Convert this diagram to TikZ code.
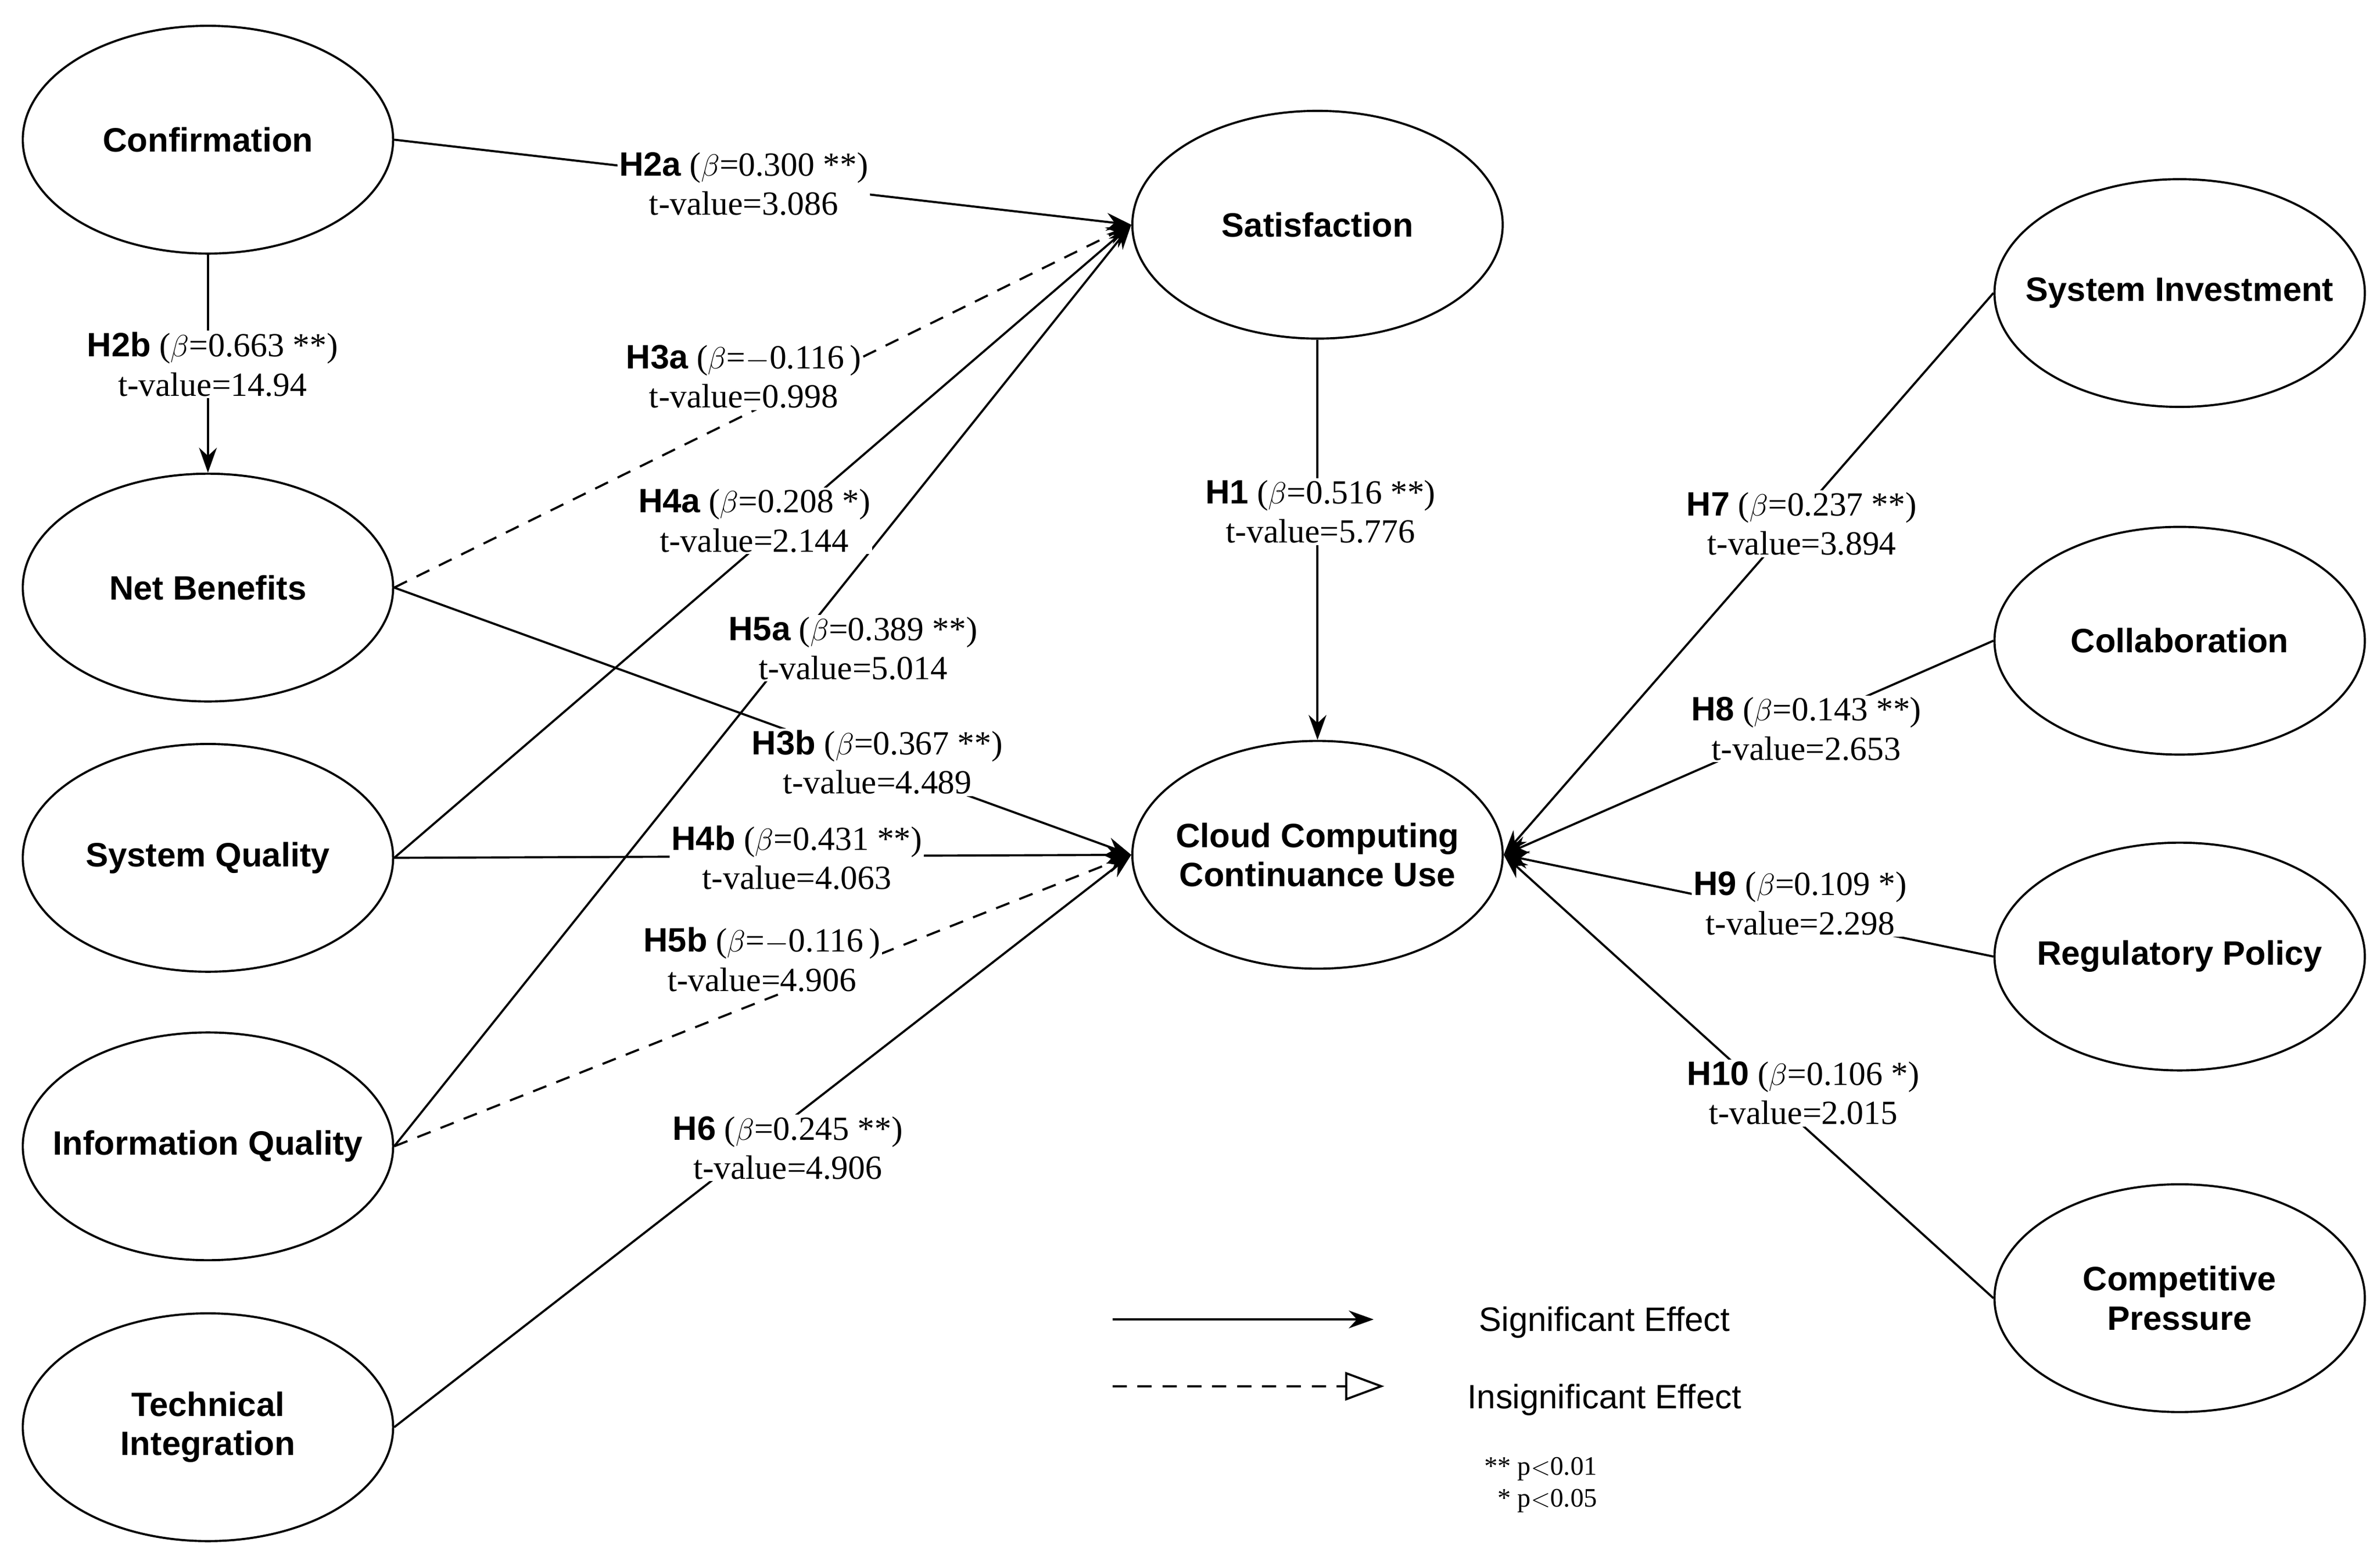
\documentclass[tikz,border=0pt]{standalone}
\usepackage{fontspec}
\setmainfont{Liberation Serif}
\newfontfamily\hsf{Liberation Sans}
\usetikzlibrary{shapes.geometric, arrows.meta}
\tikzset{
  blob/.style={draw, ellipse, line width=1.2pt, minimum width=7.32cm, minimum height=4.5cm, inner sep=0pt},
  con/.style={line width=1.2pt, -{Stealth[length=14pt,width=10pt]}},
  ins/.style={con, dashed, dash pattern=on 8pt off 6pt},
  hyp/.style={fill=white, align=center, inner sep=1pt, font=\fontsize{19}{22}\selectfont},
}
\newcommand{\bt}[1]{{\hsf\bfseries #1}}
\begin{document}
\begin{tikzpicture}[x=0.03cm, y=-0.03cm, font=\fontsize{19}{22}\selectfont]
        \useasboundingbox (0,0) rectangle (1568,1032);

        \node[blob, label={center:\bt{Confirmation}}] (conf) at (137,92) {};
        \node[blob, label={center:\bt{Net Benefits}}] (net) at (137,387) {};
        \node[blob, label={center:\bt{System Quality}}] (sysq) at (137,565) {};
        \node[blob, label={center:\bt{Information Quality}}] (infq) at (137,755) {};
        \node[blob, label={[align=center]center:\bt{Technical}\\\bt{Integration}}] (tech) at (137,940) {};

        \node[blob, label={center:\bt{Satisfaction}}] (sat) at (868,148) {};
        \node[blob, label={[align=center]center:\bt{Cloud Computing}\\\bt{Continuance Use}}] (ccu) at (868,563) {};

        \node[blob, label={center:\bt{System Investment}}] (inv) at (1436,193) {};
        \node[blob, label={center:\bt{Collaboration}}] (coll) at (1436,422) {};
        \node[blob, label={center:\bt{Regulatory Policy}}] (reg) at (1436,630) {};
        \node[blob, label={[align=center]center:\bt{Competitive}\\\bt{Pressure}}] (comp) at (1436,855) {};

        \draw[con] (conf.east) -- (sat.west);
        \draw[con] (conf.south) -- (net.north);
        \draw[ins] (net.east) -- (sat.west);
        \draw[con] (sysq.east) -- (sat.west);
        \draw[con] (infq.east) -- (sat.west);
        \draw[con] (net.east) -- (ccu.west);
        \draw[con] (sysq.east) -- (ccu.west);
        \draw[ins] (infq.east) -- (ccu.west);
        \draw[con] (tech.east) -- (ccu.west);
        \draw[con] (sat.south) -- (ccu.north);
        \draw[con] (inv.west) -- (ccu.east);
        \draw[con] (coll.west) -- (ccu.east);
        \draw[con] (reg.west) -- (ccu.east);
        \draw[con] (comp.west) -- (ccu.east);

        \node[hyp] (h2a) at (490,121) {\bt{H2a} ($\beta$=0.300 **)\\t-value=3.086};
        \node[hyp] (h2b) at (140,240) {\bt{H2b} ($\beta$=0.663 **)\\t-value=14.94};
        \node[hyp] (h3a) at (490,248) {\bt{H3a} ($\beta$=$-$0.116\,)\\t-value=0.998};
        \node[hyp] (h4a) at (497,343) {\bt{H4a} ($\beta$=0.208 *)\\t-value=2.144};
        \node[hyp] (h5a) at (562,427) {\bt{H5a} ($\beta$=0.389 **)\\t-value=5.014};
        \node[hyp] (h3b) at (578,502) {\bt{H3b} ($\beta$=0.367 **)\\t-value=4.489};
        \node[hyp] (h4b) at (525,565) {\bt{H4b} ($\beta$=0.431 **)\\t-value=4.063};
        \node[hyp] (h5b) at (502,632) {\bt{H5b} ($\beta$=$-$0.116\,)\\t-value=4.906};
        \node[hyp] (h6) at (519,756) {\bt{H6} ($\beta$=0.245 **)\\t-value=4.906};
        \node[hyp] (h1) at (870,337) {\bt{H1} ($\beta$=0.516 **)\\t-value=5.776};
        \node[hyp] (h7) at (1187,345) {\bt{H7} ($\beta$=0.237 **)\\t-value=3.894};
        \node[hyp] (h8) at (1190,480) {\bt{H8} ($\beta$=0.143 **)\\t-value=2.653};
        \node[hyp] (h9) at (1186,595) {\bt{H9} ($\beta$=0.109 *)\\t-value=2.298};
        \node[hyp] (h10) at (1188,720) {\bt{H10} ($\beta$=0.106 *)\\t-value=2.015};

        % legend
        \coordinate (s1) at (733,869);
        \coordinate (s2) at (905,869);
        \coordinate (d1) at (733,913);
        \coordinate (d2) at (912,913);
        \draw[con] (s1) -- (s2);
        \draw[line width=1.2pt, dashed, dash pattern=on 8pt off 6pt, -{Triangle[open, length=22pt, width=16pt]}] (d1) -- (d2);
        \node (sig) at (1057,871) {\hsf Significant Effect};
        \node (insig) at (1057,922) {\hsf Insignificant Effect};
        \node[font=\fontsize{15}{18}\selectfont, align=left] (pv) at (1015,978) {** p$<$0.01\\\,\,\,* p$<$0.05};
    \end{tikzpicture}
\end{document}
